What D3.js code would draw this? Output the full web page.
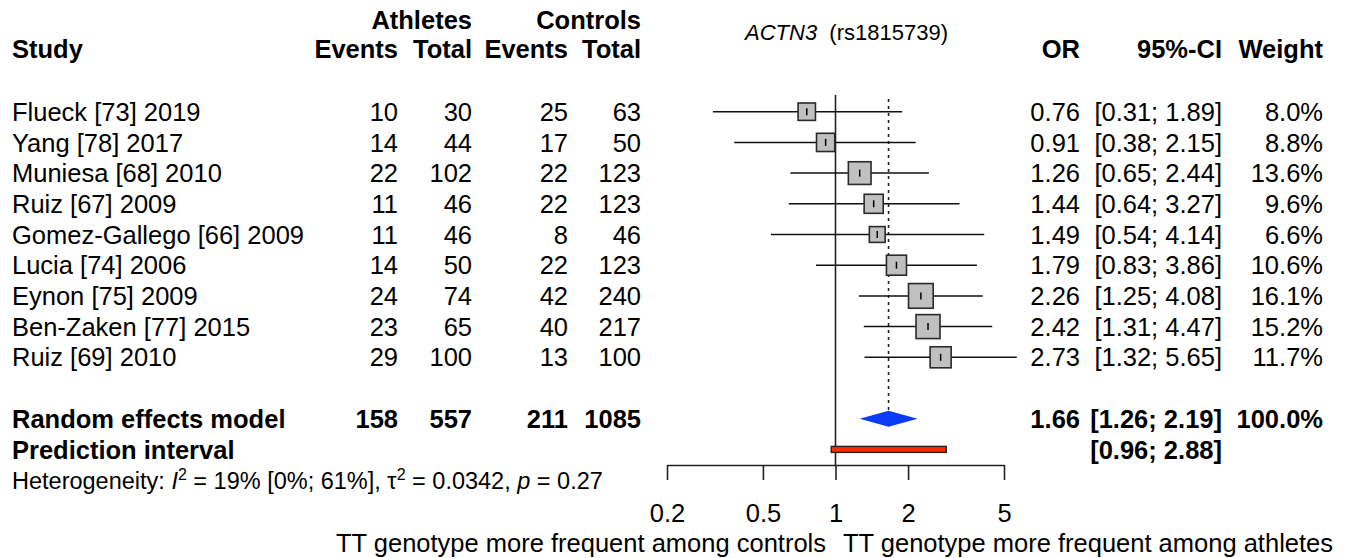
<!DOCTYPE html>
<html>
<head>
<meta charset="utf-8">
<title>ACTN3 forest plot</title>
<script src="https://cdn.jsdelivr.net/npm/d3@7"></script>
<style>
    body { margin: 0; background: #fff; }
    svg { font-family: "Liberation Sans", Arial, sans-serif; }
    .bold { font-weight: bold; }
</style>
</head>
<body>
<div id="chart"></div>
<script>
// study rows
var studies    = ["Flueck [73] 2019", "Yang [78] 2017", "Muniesa [68] 2010", "Ruiz [67] 2009",
                  "Gomez-Gallego [66] 2009", "Lucia [74] 2006", "Eynon [75] 2009",
                  "Ben-Zaken [77] 2015", "Ruiz [69] 2010"];
var athEvents  = [10, 14, 22, 11, 11, 14, 24, 23, 29];
var athTotal   = [30, 44, 102, 46, 46, 50, 74, 65, 100];
var ctlEvents  = [25, 17, 22, 22, 8, 22, 42, 40, 13];
var ctlTotal   = [63, 50, 123, 123, 46, 123, 240, 217, 100];
var orValue    = [0.76, 0.91, 1.26, 1.44, 1.49, 1.79, 2.26, 2.42, 2.73];
var ciLower    = [0.31, 0.38, 0.65, 0.64, 0.54, 0.83, 1.25, 1.31, 1.32];
var ciUpper    = [1.89, 2.15, 2.44, 3.27, 4.14, 3.86, 4.08, 4.47, 5.65];
var weights    = [8.0, 8.8, 13.6, 9.6, 6.6, 10.6, 16.1, 15.2, 11.7];

// pooled results
var pooledTotals = [158, 557, 211, 1085];
var pooledOR     = [1.66, 1.26, 2.19];   // estimate, lower, upper
var predInterval = [0.96, 2.88];
var tickValues   = [0.2, 0.5, 1, 2, 5];

var width = 1357, height = 558;
var fs = 25.5;

var svg = d3.select("#chart").append("svg")
    .attr("width", width)
    .attr("height", height);

var x = d3.scaleLog().domain([0.2, 5]).range([667, 1004]);

// row positions: 9 studies, one gap, pooled row, prediction row
var rowY = d3.scaleLinear().domain([0, 1]).range([111.7, 142.4]);

var fmt2 = d3.format(".2f"), fmt1 = d3.format(".1f");
function ci(lo, hi) { return "[" + fmt2(lo) + "; " + fmt2(hi) + "]"; }

// column right edges
var colX = [398, 472, 568, 641];
var orX = 1080, ciX = 1222, wX = 1323;

function txt(xp, yp, s, anchor, cls) {
    return svg.append("text")
        .attr("x", xp).attr("y", yp)
        .attr("font-size", fs)
        .attr("text-anchor", anchor || "start")
        .attr("class", cls || null)
        .text(s);
}

// headers
txt(472, 29, "Athletes", "end", "bold");
txt(641, 29, "Controls", "end", "bold");
txt(12, 58, "Study", "start", "bold");
["Events", "Total", "Events", "Total"].forEach(function(h, i) {
    txt(colX[i], 58, h, "end", "bold");
});
txt(orX, 58, "OR", "end", "bold");
txt(ciX, 58, "95%-CI", "end", "bold");
txt(wX, 58, "Weight", "end", "bold");

var title = svg.append("text").attr("x", 745).attr("y", 40).attr("font-size", 22);
title.append("tspan").attr("font-style", "italic").text("ACTN3");
title.append("tspan").attr("xml:space", "preserve").text("  (rs1815739)");

// study text columns
studies.forEach(function(s, i) {
    var y = rowY(i) + 0.36 * fs;
    txt(12, y, s);
    [athEvents[i], athTotal[i], ctlEvents[i], ctlTotal[i]].forEach(function(v, j) {
        txt(colX[j], y, v, "end");
    });
    txt(orX, y, fmt2(orValue[i]), "end");
    txt(ciX, y, ci(ciLower[i], ciUpper[i]), "end");
    txt(wX, y, fmt1(weights[i]) + "%", "end");
});

// pooled rows text
var yRe = rowY(10) + 0.36 * fs, yPi = rowY(11) + 0.36 * fs;
txt(12, yRe, "Random effects model", "start", "bold");
pooledTotals.forEach(function(v, j) { txt(colX[j], yRe, v, "end", "bold"); });
txt(orX, yRe, fmt2(pooledOR[0]), "end", "bold");
txt(ciX, yRe, ci(pooledOR[1], pooledOR[2]), "end", "bold");
txt(wX, yRe, "100.0%", "end", "bold");
txt(12, yPi, "Prediction interval", "start", "bold");
txt(ciX, yPi, ci(predInterval[0], predInterval[1]), "end", "bold");

// heterogeneity
var het = svg.append("text").attr("x", 12).attr("y", 489).attr("font-size", 23.5);
het.append("tspan").text("Heterogeneity: ");
het.append("tspan").attr("font-style", "italic").text("I");
het.append("tspan").attr("font-size", 16).attr("dy", -9).text("2");
het.append("tspan").attr("dy", 9).text(" = 19% [0%; 61%], \u03c4");
het.append("tspan").attr("font-size", 16).attr("dy", -9).text("2");
het.append("tspan").attr("dy", 9).text(" = 0.0342, ");
het.append("tspan").attr("font-style", "italic").text("p");
het.append("tspan").text(" = 0.27");

// reference line at 1 and dotted pooled line
svg.append("line")
    .attr("x1", x(1)).attr("x2", x(1))
    .attr("y1", 95).attr("y2", 465)
    .attr("stroke", "#222").attr("stroke-width", 1.6);
svg.append("line")
    .attr("x1", x(pooledOR[0])).attr("x2", x(pooledOR[0]))
    .attr("y1", 99).attr("y2", rowY(10) - 8)
    .attr("stroke", "#222").attr("stroke-width", 1.6)
    .attr("stroke-dasharray", "3,4");

// confidence interval lines
svg.selectAll(".ci")
    .data(studies)
    .enter().append("line")
    .attr("class", "ci")
    .attr("x1", function(d, i) { return x(ciLower[i]); })
    .attr("x2", function(d, i) { return x(ciUpper[i]); })
    .attr("y1", function(d, i) { return rowY(i); })
    .attr("y2", function(d, i) { return rowY(i); })
    .attr("stroke", "#111").attr("stroke-width", 1.5);

// weighted squares
var side = function(i) { return 6.15 * Math.sqrt(weights[i]); };
svg.selectAll(".sq")
    .data(studies)
    .enter().append("rect")
    .attr("class", "sq")
    .attr("x", function(d, i) { return x(orValue[i]) - side(i) / 2; })
    .attr("y", function(d, i) { return rowY(i) - side(i) / 2; })
    .attr("width", function(d, i) { return side(i); })
    .attr("height", function(d, i) { return side(i); })
    .attr("fill", "#c0c0c0")
    .attr("stroke", "#2a2a2a").attr("stroke-width", 1.6);

svg.selectAll(".mid")
    .data(studies)
    .enter().append("line")
    .attr("class", "mid")
    .attr("x1", function(d, i) { return x(orValue[i]); })
    .attr("x2", function(d, i) { return x(orValue[i]); })
    .attr("y1", function(d, i) { return rowY(i) - 3.5; })
    .attr("y2", function(d, i) { return rowY(i) + 3.5; })
    .attr("stroke", "#000").attr("stroke-width", 1.5);

// pooled diamond
var yD = rowY(10);
svg.append("polygon")
    .attr("points", [
        [x(pooledOR[1]), yD], [x(pooledOR[0]), yD - 8],
        [x(pooledOR[2]), yD], [x(pooledOR[0]), yD + 8]
    ].map(function(p) { return p.join(","); }).join(" "))
    .attr("fill", "#0a3cf5");

// prediction interval bar
svg.append("rect")
    .attr("x", x(predInterval[0]))
    .attr("y", rowY(11) - 3)
    .attr("width", x(predInterval[1]) - x(predInterval[0]))
    .attr("height", 6)
    .attr("fill", "#ff2a00")
    .attr("stroke", "#222").attr("stroke-width", 1.4);

// x axis
var axis = svg.append("g")
    .attr("transform", "translate(0,465)")
    .call(d3.axisBottom(x)
        .tickValues(tickValues)
        .tickFormat(function(d) { return d; })
        .tickSize(15)
        .tickSizeOuter(0)
        .tickPadding(24));
axis.select(".domain").attr("stroke", "#222").attr("stroke-width", 1.6);
axis.selectAll(".tick line").attr("stroke", "#222").attr("stroke-width", 1.6);
axis.selectAll(".tick text")
    .attr("font-size", fs)
    .attr("font-family", "Liberation Sans, Arial, sans-serif")
    .attr("fill", "#000");

txt(826, 552, "TT genotype more frequent among controls", "end");
txt(843, 552, "TT genotype more frequent among athletes", "start");
</script>
</body>
</html>
